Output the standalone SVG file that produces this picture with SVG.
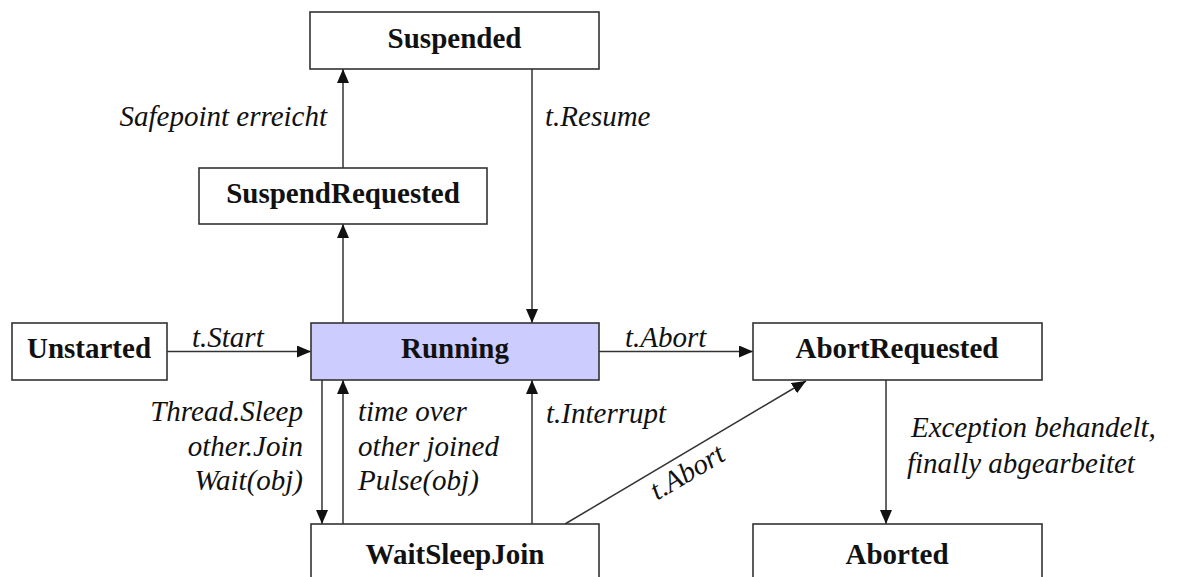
<svg xmlns="http://www.w3.org/2000/svg" width="1177" height="577" viewBox="0 0 1177 577">
  <style>
    .box { fill: #ffffff; stroke: #333333; stroke-width: 1.6; }
    .run { fill: #ccccff; stroke: #333333; stroke-width: 1.6; }
    .name { font-family: "Liberation Serif", "Times New Roman", serif; font-weight: bold; font-size: 29px; fill: #111111; text-anchor: middle; }
    .lbl { font-family: "Liberation Serif", "Times New Roman", serif; font-style: italic; font-size: 29px; fill: #111111; }
    .end { text-anchor: end; }
    .edge { fill: none; stroke: #333333; stroke-width: 1.5; marker-end: url(#arrow); }
  </style>
  <defs>
    <marker id="arrow" markerUnits="userSpaceOnUse" markerWidth="14" markerHeight="12" refX="14" refY="6" orient="auto">
      <path d="M0,0 L14,6 L0,12 z" fill="#111111"/>
    </marker>
  </defs>
  <rect width="1177" height="577" fill="#ffffff"/>

  <g id="connectors">
    <line class="edge" x1="343" y1="168" x2="343" y2="69"/>
    <line class="edge" x1="532" y1="69" x2="532" y2="323"/>
    <line class="edge" x1="343" y1="323" x2="343" y2="224"/>
    <line class="edge" x1="167" y1="351.5" x2="311" y2="351.5"/>
    <line class="edge" x1="599" y1="351.5" x2="753" y2="351.5"/>
    <line class="edge" x1="322" y1="380" x2="322" y2="524"/>
    <line class="edge" x1="343" y1="524" x2="343" y2="380"/>
    <line class="edge" x1="532" y1="524" x2="532" y2="380"/>
    <line class="edge" x1="565" y1="524" x2="806" y2="381"/>
    <line class="edge" x1="886" y1="380" x2="886" y2="524"/>
    <text class="lbl end" x="327" y="126">Safepoint erreicht</text>
    <text class="lbl" x="545" y="126">t.Resume</text>
    <text class="lbl" x="192" y="347">t.Start</text>
    <text class="lbl" x="625" y="347">t.Abort</text>
    <text class="lbl end" x="303" y="421">Thread.Sleep</text>
    <text class="lbl end" x="303" y="456">other.Join</text>
    <text class="lbl end" x="303" y="490">Wait(obj)</text>
    <text class="lbl" x="358" y="421">time over</text>
    <text class="lbl" x="358" y="456">other joined</text>
    <text class="lbl" x="358" y="490">Pulse(obj)</text>
    <text class="lbl" x="546" y="423">t.Interrupt</text>
    <text class="lbl" x="692" y="480" text-anchor="middle" transform="rotate(-30.6 692 480)">t.Abort</text>
    <text class="lbl" x="911" y="437">Exception behandelt,</text>
    <text class="lbl" x="907" y="473">finally abgearbeitet</text>
  </g>

  <g id="Suspended">
    <rect class="box" x="310" y="12" width="289" height="57"/>
    <text class="name" x="454.5" y="48">Suspended</text>
  </g>
  <g id="SuspendRequested">
    <rect class="box" x="199" y="168" width="288" height="56"/>
    <text class="name" x="343" y="203">SuspendRequested</text>
  </g>
  <g id="Unstarted">
    <rect class="box" x="12" y="323" width="155" height="57"/>
    <text class="name" x="89" y="358">Unstarted</text>
  </g>
  <g id="Running">
    <rect class="run" x="311" y="323" width="288" height="57"/>
    <text class="name" x="455" y="358">Running</text>
  </g>
  <g id="AbortRequested">
    <rect class="box" x="753" y="323" width="289" height="57"/>
    <text class="name" x="897" y="358">AbortRequested</text>
  </g>
  <g id="WaitSleepJoin">
    <rect class="box" x="311" y="524" width="288" height="62"/>
    <text class="name" x="455" y="564">WaitSleepJoin</text>
  </g>
  <g id="Aborted">
    <rect class="box" x="753" y="524" width="289" height="62"/>
    <text class="name" x="897" y="564">Aborted</text>
  </g>
</svg>
